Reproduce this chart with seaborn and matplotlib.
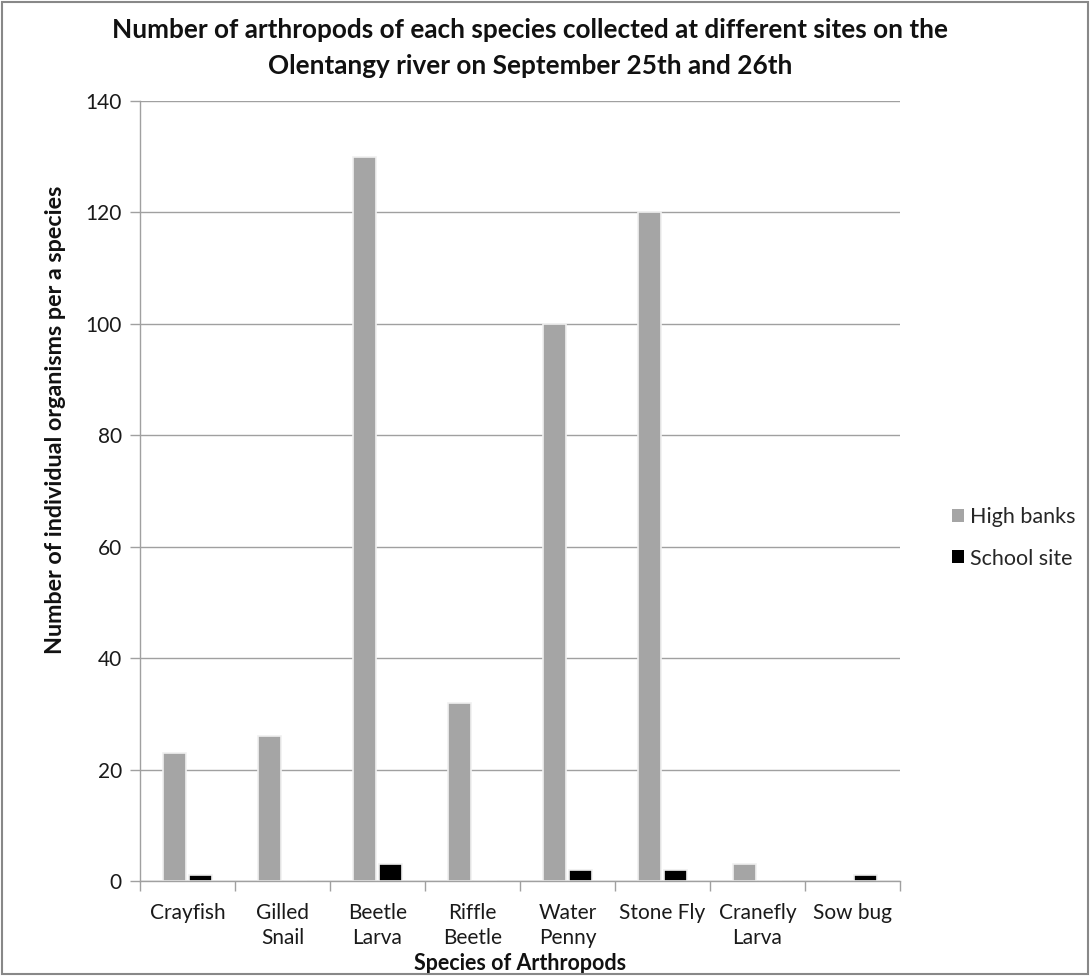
import numpy as np
import pandas as pd
import matplotlib
matplotlib.use("Agg")
import matplotlib.pyplot as plt
import seaborn as sns
from matplotlib.patches import Rectangle

# Data
species = ["Crayfish", "Gilled\nSnail", "Beetle\nLarva", "Riffle\nBeetle",
           "Water\nPenny", "Stone Fly", "Cranefly\nLarva", "Sow bug"]
high_banks = [23, 26, 130, 32, 100, 120, 3, 0]
school_site = [1, 0, 3, 0, 2, 2, 0, 1]
sites = ["High banks", "School site"]
site_colors = ["#a5a5a5", "#000000"]

df = pd.DataFrame({
    "species": species * 2,
    "count": high_banks + school_site,
    "site": [sites[0]] * len(species) + [sites[1]] * len(species),
})

sns.set_theme(style="white")
plt.rcParams["font.family"] = ["Lato", "DejaVu Sans"]

fig = plt.figure(figsize=(10.9, 9.76), dpi=100)
ax = fig.add_axes([140 / 1090, 1 - 881 / 976, 760 / 1090, 780 / 976])

sns.barplot(data=df, x="species", y="count", hue="site", order=species,
            hue_order=sites, palette=site_colors, width=0.54, gap=0.08,
            edgecolor="#f0f0f0", linewidth=1.2, ax=ax)

ax.set_ylim(0, 140)
ax.set_yticks(np.arange(0, 141, 20))
ax.set_xlim(-0.5, len(species) - 0.5)
ax.yaxis.grid(True, color="#a0a0a0", linewidth=1.0)
ax.set_axisbelow(True)

for s in ["top", "right"]:
    ax.spines[s].set_visible(False)
for s in ["left", "bottom"]:
    ax.spines[s].set_color("#a0a0a0")
    ax.spines[s].set_linewidth(1.0)

# category boundary ticks on x axis
ax.set_xticks(np.arange(len(species)))
ax.set_xticklabels(species, fontsize=15, color="#1a1a1a", linespacing=1.3)
ax.set_xticks(np.arange(-0.5, len(species), 1), minor=True)
ax.tick_params(axis="x", which="major", length=0, pad=16)
ax.tick_params(axis="x", which="minor", length=7, color="#a0a0a0", width=1.0,
               direction="out", bottom=True)
ax.tick_params(axis="y", length=7, color="#a0a0a0", width=1.0,
               direction="out", left=True, labelsize=15, labelcolor="#1a1a1a", pad=6)

ax.set_xlabel("Species of Arthropods", fontsize=15.5, fontweight="bold", color="#111111")
ax.xaxis.set_label_coords(0.5, -0.092)
ax.set_ylabel("Number of individual organisms per a species", fontsize=16.8,
              fontweight="bold", color="#111111")
ax.yaxis.set_label_coords(-0.098, 0.591)

fig.text(0.486, 1 - 48 / 976,
         "Number of arthropods of each species collected at different sites on the\n"
         "Olentangy river on September 25th and 26th",
         ha="center", va="center", fontsize=18.8, fontweight="bold",
         color="#111111", linespacing=1.55)

leg = ax.legend(loc="center left", bbox_to_anchor=(1.043, 0.44), frameon=False,
                fontsize=15.5, handlelength=0.55, handleheight=0.55,
                handletextpad=0.28, labelspacing=1.0)
for h in leg.legend_handles:
    h.set_edgecolor("none")

# chart area border
fig.patches.append(Rectangle((0.002, 0.002), 0.996, 0.996, transform=fig.transFigure,
                             fill=False, edgecolor="#888888", linewidth=1.5))

fig.savefig("out.png", dpi=100)
